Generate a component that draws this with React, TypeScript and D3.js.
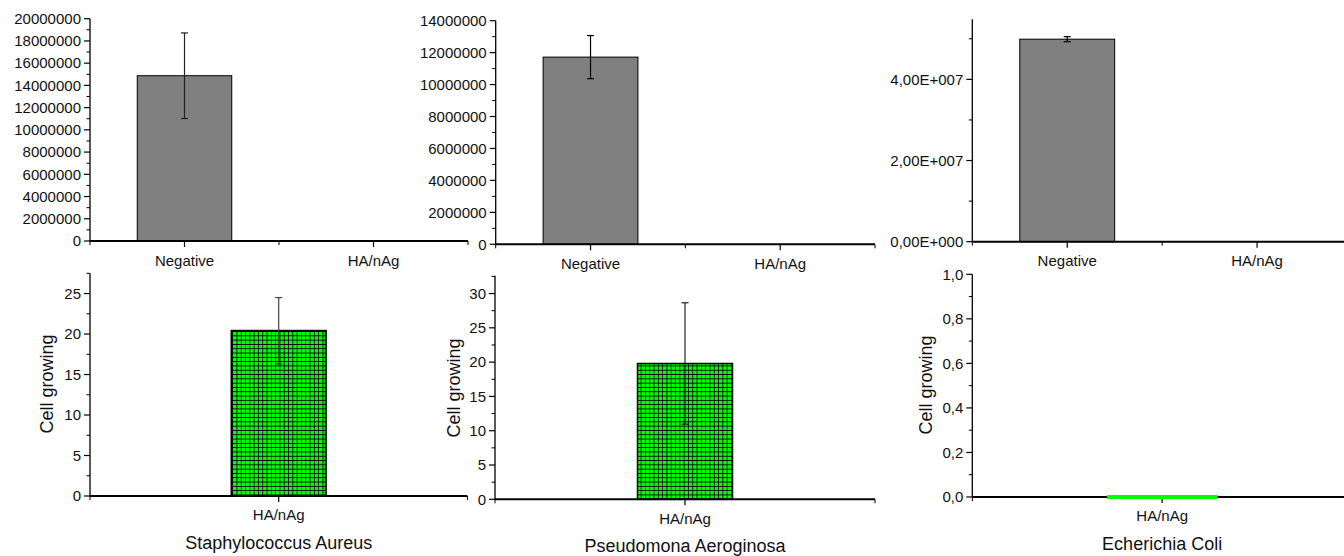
import React from 'react';
import * as d3 from 'd3';

// top row: counts for the negative control vs HA/nAg
const topCategories = ['Negative', 'HA/nAg'];
const saTopValues = [14870000, 0];
const saTopErrors = [3850000, 0];
const paTopValues = [11720000, 0];
const paTopErrors = [1350000, 0];
const ecTopValues = [49900000, 0];
const ecTopErrors = [620000, 0];

// bottom row: cell growing on HA/nAg
const bottomCategories = ['HA/nAg'];
const saBottomValues = [20.4];
const saBottomErrors = [4.1];
const paBottomValues = [19.8];
const paBottomErrors = [8.85];
const ecBottomValues = [0];
const ecBottomErrors = [0];

const bacteria = ['Staphylococcus Aureus', 'Pseudomona Aeroginosa', 'Echerichia Coli'];
const yTitle = 'Cell growing';

const topTicks1 = d3.range(0, 20000001, 2000000);
const topTicks2 = d3.range(0, 14000001, 2000000);
const topTicks3 = [0, 20000000, 40000000];
const bottomTicks1 = [0, 5, 10, 15, 20, 25];
const bottomTicks2 = [0, 5, 10, 15, 20, 25, 30];
const bottomTicks3 = [0, 0.2, 0.4, 0.6, 0.8, 1.0];

const W = 1344;
const H = 556;
const font = '"Liberation Sans", Arial, sans-serif';

const sciFmt = (v) => (v === 0 ? '0,00E+000' : (v / 1e7).toFixed(2).replace('.', ',') + 'E+007');
const commaFmt = (v) => v.toFixed(1).replace('.', ',');
const intFmt = d3.format('d');

function Panel({ cats, values, errors, x0, x1, yTop, yZero, yMax, ticks, minorStep, fmt,
  barFrac, fill, stroke, strokeWidth, errColor, labelY, title, titleY, yLabelX, yLabelY }) {
  const x = d3.scaleBand().domain(cats).range([x0, x1]);
  const y = d3.scaleLinear().domain([0, yMax]).range([yZero, yTop]);
  const minor = d3.range(0, yMax + 1e-9, minorStep).filter(v => !ticks.some(t => Math.abs(t - v) < minorStep / 10));
  const edges = cats.map(c => x(c)).concat([x1]);
  const bw = x.bandwidth() * barFrac;
  const center = (c) => x(c) + x.bandwidth() / 2;

  return (
    <g fontFamily={font}>
      {cats.map((c, i) => {
        const cx = center(c);
        const v = values[i];
        const e = errors[i];
        return (
          <g key={c}>
            {v > 0 && (
              <rect x={cx - bw / 2} y={y(v)} width={bw} height={yZero - y(v)} fill={fill}
                stroke={stroke} strokeWidth={strokeWidth} />
            )}
            {e > 0 && (
              <g stroke={errColor} strokeWidth={1.2}>
                <line x1={cx} x2={cx} y1={y(v + e)} y2={y(v - e)} />
                <line x1={cx - 3.5} x2={cx + 3.5} y1={y(v + e)} y2={y(v + e)} />
                <line x1={cx - 3.5} x2={cx + 3.5} y1={y(v - e)} y2={y(v - e)} />
              </g>
            )}
          </g>
        );
      })}
      {/* y axis */}
      <line x1={x0} x2={x0} y1={yTop} y2={yZero} stroke="#000" strokeWidth={1.3} />
      {ticks.map(t => (
        <g key={'t' + t}>
          <line x1={x0 - 6} x2={x0} y1={y(t)} y2={y(t)} stroke="#000" strokeWidth={1.2} />
          <text x={x0 - 9} y={y(t)} dy="0.35em" textAnchor="end" fontSize={15} fill="#111">{fmt(t)}</text>
        </g>
      ))}
      {minor.map(t => (
        <line key={'m' + t} x1={x0 - 3.5} x2={x0} y1={y(t)} y2={y(t)} stroke="#000" strokeWidth={1} />
      ))}
      {/* x axis */}
      <line x1={x0} x2={x1} y1={yZero} y2={yZero} stroke="#000" strokeWidth={2} />
      {edges.map((ex, i) => (
        <line key={'e' + i} x1={ex} x2={ex} y1={yZero} y2={yZero + 4} stroke="#000" strokeWidth={1} />
      ))}
      {cats.map(c => {
        const cx = center(c);
        return (
          <g key={'l' + c}>
            <line x1={cx} x2={cx} y1={yZero} y2={yZero + 6} stroke="#000" strokeWidth={1.2} />
            <text x={cx} y={labelY} dy="0.35em" textAnchor="middle" fontSize={15} fill="#111">{c}</text>
          </g>
        );
      })}
      {/* zero-height bars show as a flat line in the bar border colour */}
      {cats.map((c, i) => values[i] === 0 && fill !== '#808080' ? (
        <line key={'z' + c} x1={center(c) - bw / 2} x2={center(c) + bw / 2} y1={yZero} y2={yZero}
          stroke={stroke} strokeWidth={strokeWidth} />
      ) : null)}
      {title && (
        <text x={(x0 + x1) / 2} y={titleY} dy="0.35em" textAnchor="middle" fontSize={18} fill="#111">{title}</text>
      )}
      {yLabelX && (
        <text transform={`translate(${yLabelX},${yLabelY}) rotate(-90)`} dy="0.35em" textAnchor="middle"
          fontSize={18} fill="#111">{yTitle}</text>
      )}
    </g>
  );
}

export default function App() {
  const green = 'url(#grid)';
  return (
    <svg width={W} height={H} style={{ position: 'absolute', left: 0, top: 0, background: '#fff' }}>
      <defs>
        <pattern id="grid" width={4.3} height={4.3} patternUnits="userSpaceOnUse">
          <rect width={4.3} height={4.3} fill="#00ff00" />
          <path d="M0,0.4H4.3M0.4,0V4.3" stroke="#000" strokeWidth={0.9} />
        </pattern>
      </defs>

      <Panel cats={topCategories} values={saTopValues} errors={saTopErrors}
        x0={90} x1={468} yTop={18.7} yZero={241} yMax={20000000} ticks={topTicks1} minorStep={1000000}
        fmt={intFmt} barFrac={0.5} fill="#808080" stroke="#000" strokeWidth={1} errColor="#222" labelY={261} />
      <Panel cats={topCategories} values={paTopValues} errors={paTopErrors}
        x0={495.7} x1={875} yTop={20.7} yZero={244.3} yMax={14000000} ticks={topTicks2} minorStep={1000000}
        fmt={intFmt} barFrac={0.5} fill="#808080" stroke="#000" strokeWidth={1} errColor="#000" labelY={263.5} />
      <Panel cats={topCategories} values={ecTopValues} errors={ecTopErrors}
        x0={972.3} x1={1352} yTop={19.3} yZero={241.7} yMax={54800000} ticks={topTicks3} minorStep={10000000}
        fmt={sciFmt} barFrac={0.5} fill="#808080" stroke="#000" strokeWidth={1} errColor="#000" labelY={261} />

      <Panel cats={bottomCategories} values={saBottomValues} errors={saBottomErrors}
        x0={90} x1={467.4} yTop={273.3} yZero={496} yMax={27.5} ticks={bottomTicks1} minorStep={2.5}
        fmt={intFmt} barFrac={0.25} fill={green} stroke="#000" strokeWidth={2} errColor="#444" labelY={515}
        title={bacteria[0]} titleY={543} yLabelX={47} yLabelY={384} />
      <Panel cats={bottomCategories} values={paBottomValues} errors={paBottomErrors}
        x0={495} x1={875} yTop={275.7} yZero={499.3} yMax={32.6} ticks={bottomTicks2} minorStep={2.5}
        fmt={intFmt} barFrac={0.25} fill={green} stroke="#000" strokeWidth={1.5} errColor="#222" labelY={518.3}
        title={bacteria[1]} titleY={546} yLabelX={454} yLabelY={388} />
      <Panel cats={bottomCategories} values={ecBottomValues} errors={ecBottomErrors}
        x0={972.3} x1={1352} yTop={274.3} yZero={497} yMax={1} ticks={bottomTicks3} minorStep={0.1}
        fmt={commaFmt} barFrac={0.29} fill={green} stroke="#00ff00" strokeWidth={4} errColor="#000" labelY={516}
        title={bacteria[2]} titleY={543.3} yLabelX={926} yLabelY={385} />
    </svg>
  );
}
